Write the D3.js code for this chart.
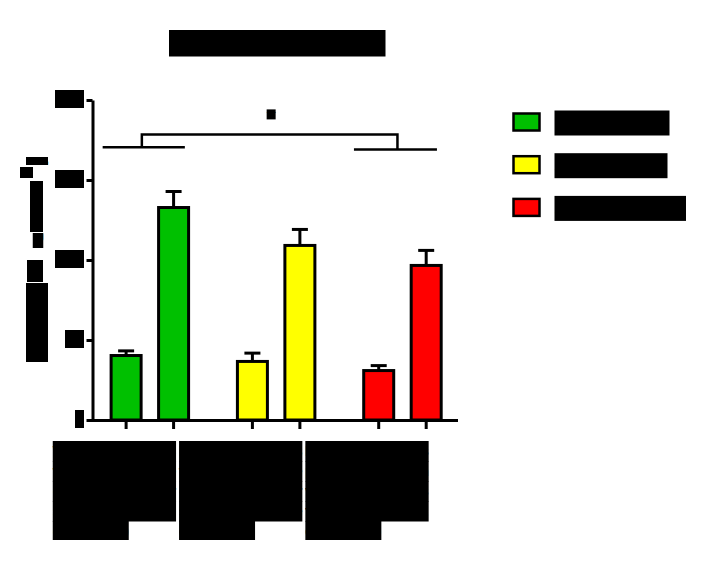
<!DOCTYPE html>
<html><head><meta charset="utf-8">
<script src="https://cdn.jsdelivr.net/npm/d3@7"></script>
<style>body{margin:0;background:#fff}svg{display:block;font-family:"Liberation Sans",Arial,sans-serif}</style>
</head><body><svg width="705" height="567"></svg>
<script>
// ---- data ----
const groups = ["Control", "Stimulated", "Stim.+Inhib."];
const groupColors = ["#00C000", "#FFFF00", "#FF0000"];
const conditions = ["Baseline", "Treated"];
const baselineMean = [40.3, 36.6, 30.9];
const baselineSem = [2.9, 5.2, 3.1];
const treatedMean = [132.8, 109.1, 96.6];
const treatedSem = [10.0, 10.0, 9.4];
const yTicks = [0, 50, 100, 150, 200];
const chartTitle = "Relative protein expression";
const groupLabelLines = [
  ["Wild-type animals", "treated with vehicle", "or stimulus for", "seven consecutive", "days (n=8)"],
  ["Knock-out animals", "treated with vehicle", "or stimulus for", "seven consecutive", "days (n=8)"],
  ["Knock-out animals", "plus inhibitor with", "vehicle or stimulus", "for seven consec.", "days (n=8)"]
];
const yTitleWords = ["Relative", "mRNA", "(", "% of ctrl", "%", ")"];
const sigLabel = "*";

// ---- layout ----
const svg = d3.select("svg");
const y = d3.scaleLinear().domain([0, 200]).range([420, 100]);
const xg = d3.scaleBand().domain(groups).range([86.7, 465.6]);
const xc = d3.scaleBand().domain(conditions).range([0, xg.bandwidth()]).paddingOuter(0.33);
const barW = 30;
const gc = g => xg(g) + xg.bandwidth() / 2;

// text hidden under a black box (the reference shows redacted text)
function redact(parent, text, x0, top, w, h, fsOverride) {
  parent.append("rect").attr("x", x0).attr("y", top).attr("width", w).attr("height", h).attr("fill", "#000");
  const fs = fsOverride || (h / 1.12);
  const base = top + h / 2 - 0.5585 * fs + 0.905 * fs;
  parent.append("text").attr("x", x0).attr("y", base)
    .attr("text-anchor", "start")
    .attr("font-family", "'Liberation Sans', Arial, sans-serif")
    .attr("font-size", fs).attr("font-weight", "bold").attr("fill", "#000")
    .attr("textLength", w).attr("lengthAdjust", "spacingAndGlyphs").text(text);
}

const bars = groups.flatMap((g, i) => [
  { g, c: conditions[0], m: baselineMean[i], s: baselineSem[i], color: groupColors[i] },
  { g, c: conditions[1], m: treatedMean[i], s: treatedSem[i], color: groupColors[i] }
]);
const bx = d => xg(d.g) + xc(d.c) + xc.bandwidth() / 2;

// error bars
const eb = svg.append("g").attr("stroke", "#000").attr("stroke-width", 3);
eb.selectAll(".v").data(bars).join("line")
  .attr("x1", bx).attr("x2", bx).attr("y1", d => y(d.m)).attr("y2", d => y(d.m + d.s));
eb.selectAll(".c").data(bars).join("line")
  .attr("x1", d => bx(d) - 8).attr("x2", d => bx(d) + 8)
  .attr("y1", d => y(d.m + d.s)).attr("y2", d => y(d.m + d.s));

// bars
svg.append("g").selectAll("rect").data(bars).join("rect")
  .attr("x", d => bx(d) - barW / 2).attr("width", barW)
  .attr("y", d => y(d.m)).attr("height", d => y(0) - y(d.m))
  .attr("fill", d => d.color).attr("stroke", "#000").attr("stroke-width", 3);

// y axis
const ya = svg.append("g").attr("transform", "translate(92.5,0)")
  .call(d3.axisLeft(y).tickValues(yTicks).tickSize(6).tickSizeOuter(0).tickFormat(d => d));
ya.select(".domain").attr("stroke-width", 3).attr("stroke", "#000");
ya.selectAll(".tick line").attr("stroke-width", 3).attr("stroke", "#000");
ya.selectAll(".tick text").remove();
ya.selectAll(".tick").each(function (d) {
  const s = String(d), w = 10 * s.length - 1;
  redact(d3.select(this), s, -8.5 - w, -10.5, w, 18, 15);
});

// x axis
svg.append("line").attr("x1", 91.5).attr("x2", 458).attr("y1", y(0) + 0.5).attr("y2", y(0) + 0.5)
  .attr("stroke", "#000").attr("stroke-width", 3);
svg.append("g").selectAll("line").data(bars).join("line")
  .attr("x1", bx).attr("x2", bx).attr("y1", y(0)).attr("y2", y(0) + 9)
  .attr("stroke", "#000").attr("stroke-width", 3);

// group labels
groups.forEach((g, i) => {
  const left = gc(g) - 97.1;
  const gl = svg.append("g");
  groupLabelLines[i].forEach((line, j) => {
    const last = j === groupLabelLines[i].length - 1;
    redact(gl, line, left, 441 + 20 * j, last ? 76 : 123.3, last ? 19 : 20.5, 15);
  });
});

// significance bracket
const sig = svg.append("g").attr("stroke", "#000").attr("stroke-width", 2.5).attr("fill", "none");
const g0 = gc(groups[0]), g2 = gc(groups[2]);
sig.append("line").attr("x1", g0 - 47.2).attr("x2", g0 + 35).attr("y1", y(170.5)).attr("y2", y(170.5));
sig.append("line").attr("x1", g2 - 48.5).attr("x2", g2 + 34.5).attr("y1", y(169)).attr("y2", y(169));
sig.append("path").attr("d", `M${g0 - 8},${y(170.5)}V${y(178.5)}H${g2 - 5}V${y(169)}`);
redact(svg, sigLabel, (g0 - 8 + g2 - 5) / 2 - 3, y(191) - 5, 9, 10);

// title
redact(svg, chartTitle, 169, 30, 216.5, 26.5);

// y title (rotated pieces)
const yTitleLayout = [
  { cx: 37, cy: 322.5, w: 22, h: 79 },
  { cx: 35, cy: 271, w: 16, h: 22 },
  { cx: 38, cy: 240.5, w: 10.5, h: 15 },
  { cx: 36.5, cy: 206.5, w: 13, h: 51 },
  { cx: 26.5, cy: 172.5, w: 13, h: 11 },
  { cx: 37, cy: 161, w: 22, h: 8 }
];
yTitleWords.forEach((wd, i) => {
  const L = yTitleLayout[i];
  const gg = svg.append("g").attr("transform", `translate(${L.cx},${L.cy}) rotate(-90)`);
  redact(gg, wd, -L.h / 2, -L.w / 2, L.h, L.w);
});

// legend
const legendWidths = [115, 113, 131.5];
groups.forEach((g, i) => {
  const cy = 122 + 42.7 * i;
  svg.append("rect").attr("x", 513.5).attr("y", cy - 8.5).attr("width", 26).attr("height", 17)
    .attr("fill", groupColors[i]).attr("stroke", "#000").attr("stroke-width", 2.5);
  redact(svg, g, 554.5, cy - 11.5, legendWidths[i], 25, 21);
});
</script></body></html>
